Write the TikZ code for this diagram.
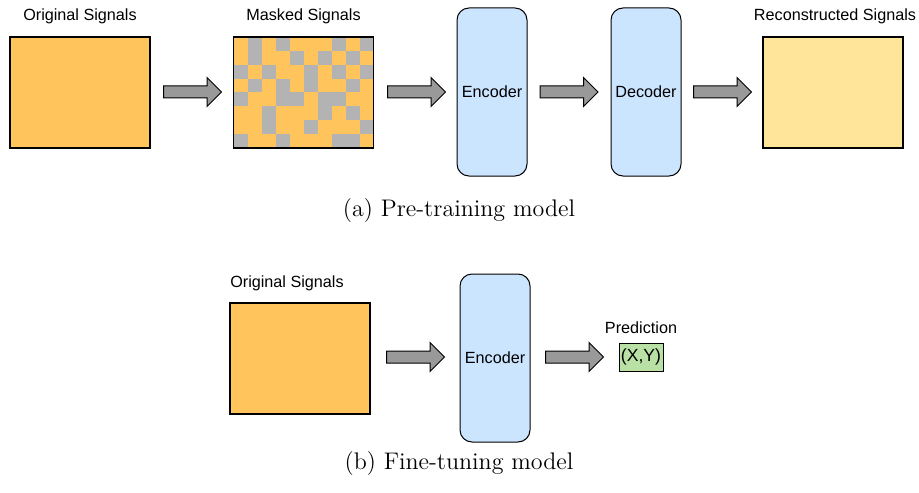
\documentclass[tikz,border=0pt]{standalone}
\usepackage{fontspec}
\newfontfamily\lblfont{Liberation Sans}
\usetikzlibrary{shapes.arrows}
\definecolor{sigorange}{HTML}{FFC55C}
\definecolor{recyellow}{HTML}{FFE599}
\definecolor{coderblue}{HTML}{CCE5FF}
\definecolor{predgreen}{HTML}{B9E0A5}
\definecolor{maskgray}{HTML}{B3B3B3}
\definecolor{fatgray}{HTML}{999999}
\tikzset{
  signal/.style = {rectangle, draw, line width=0.8pt, fill=sigorange, minimum width=70pt, minimum height=55.5pt, inner sep=0},
  recsig/.style = {signal, fill=recyellow},
  coder/.style  = {rectangle, draw, line width=0.5pt, rounded corners=6pt, fill=coderblue, minimum width=35pt, minimum height=84pt, inner sep=0, font=\lblfont\fontsize{8.1}{10}\selectfont},
  fat/.style    = {single arrow, draw, line width=0.5pt, fill=fatgray, minimum height=29pt, single arrow head extend=4.25pt, single arrow head indent=0pt, inner xsep=0, inner ysep=2.75pt},
  lbl/.style    = {anchor=base, inner sep=0, font=\lblfont\fontsize{8.1}{10}\selectfont},
  pred/.style   = {rectangle, draw, line width=0.5pt, fill=predgreen, minimum width=22pt, minimum height=14pt, inner sep=0, font=\lblfont\fontsize{8.8}{10}\selectfont},
  capt/.style   = {anchor=base, inner sep=0, font=\fontsize{12}{14}\selectfont}
}
\begin{document}
\begin{tikzpicture}[x=0.5pt, y=-0.5pt]
  \useasboundingbox (0,0) rectangle (919,492);
  % (a) pre-training
  \node[signal] (orig) at (80,92.5) {};
  \node[lbl] (origT) at (80,21) {Original Signals};
  \node[signal, path picture={
      \foreach \c/\r in {1/0,3/0,7/0,9/0, 1/1,4/1,6/1,8/1, 0/2,2/2,5/2,7/2,9/2, 1/3,3/3,5/3,8/3,
                         0/4,3/4,4/4,6/4,7/4, 2/5,6/5,8/5, 2/6,5/6,9/6, 0/7,3/7,7/7,8/7}
        \fill[maskgray] ([xshift=\c*7pt, yshift=-\r*6.9375pt]path picture bounding box.north west) rectangle ++(7pt,-6.9375pt);
    }] (mask) at (303.5,92.5) {};
  \node[lbl] (maskT) at (303.5,21) {Masked Signals};
  \node[coder] (enc) at (492,92) {Encoder};
  \node[coder] (dec) at (646,92) {Decoder};
  \node[recsig] (rec) at (833,92.5) {};
  \node[lbl] (recT) at (835,21) {Reconstructed Signals};
  \node[fat] (f1) at (189.5,92) {};
  \node[fat] (f2) at (413.5,92) {};
  \node[fat] (f3) at (566,92) {};
  \node[fat] (f4) at (719.5,92) {};
  \node[capt] (capA) at (459,216) {(a) Pre-training model};
  % (b) fine-tuning
  \node[signal] (orig2) at (300,358.5) {};
  \node[lbl] (orig2T) at (287,287) {Original Signals};
  \node[coder] (enc2) at (495,358) {Encoder};
  \node[pred] (xy) at (641,357) {(X,Y)};
  \node[lbl] (xyT) at (641,333) {Prediction};
  \node[fat] (f5) at (412.5,357) {};
  \node[fat] (f6) at (571.5,357) {};
  \node[capt] (capB) at (459,469) {(b) Fine-tuning model};
\end{tikzpicture}
\end{document}
